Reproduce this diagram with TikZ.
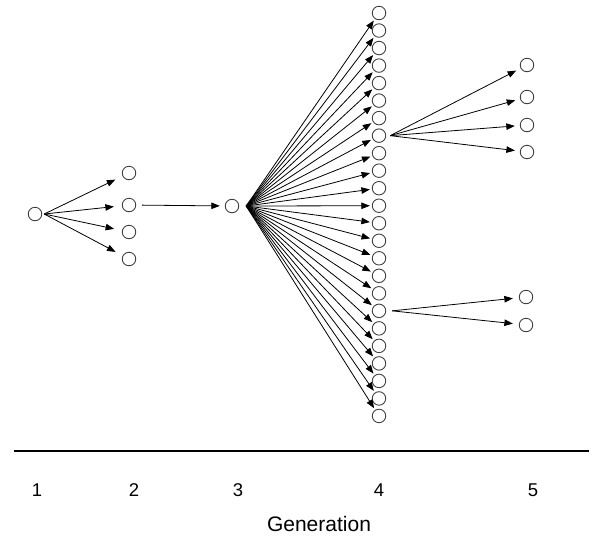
\documentclass[tikz,border=0pt]{standalone}
\usepackage{fontspec}
\setmainfont{Liberation Sans}
\usetikzlibrary{arrows.meta}
\begin{document}
\begin{tikzpicture}[x=1pt,y=-1pt,
  gen/.style={circle,draw=black!75,line width=0.9pt,minimum size=13.5pt,inner sep=0pt},
  arr/.style={-{Triangle[length=8.5pt,width=6.5pt]},line width=0.8pt},
  lbl/.style={font=\fontsize{18.5}{22}\selectfont,inner sep=0pt},
  axis/.style={line width=2.5pt}]
\useasboundingbox (0,0) rectangle (600,542);
% generation 1
\node[gen] (a) at (35,214) {};
% generation 2
\foreach \y [count=\i] in {173,205,232,259} \node[gen] (b\i) at (129,\y) {};
% generation 3
\node[gen] (c) at (232,206) {};
% generation 4
\foreach \i in {1,...,24} \node[gen] (d\i) at (379,{13+(\i-1)*17.52}) {};
% generation 5
\foreach \y [count=\i] in {65,97,125,152} \node[gen] (e\i) at (527,\y) {};
\foreach \y [count=\i] in {297,325} \node[gen] (f\i) at (526,\y) {};
% arrows
\coordinate (ax) at ([xshift=2pt]a.east);
\foreach \i in {1,...,4} \draw[arr,shorten >=8pt] (ax) -- (b\i);
\draw[arr,shorten <=6pt,shorten >=5pt] (b2) -- (c);
\coordinate (cx) at ([xshift=7pt]c.east);
\foreach \i in {1,...,24} \draw[arr,shorten >=2pt] (cx) -- (d\i);
\coordinate (dx) at ([xshift=4pt]d8.east);
\foreach \i in {1,...,4} \draw[arr,shorten >=5pt] (dx) -- (e\i);
\coordinate (dy) at ([xshift=6pt]d18.east);
\foreach \i in {1,2} \draw[arr,shorten >=6pt] (dy) -- (f\i);
% axis
\coordinate (l) at (14,451);
\coordinate (r) at (589,451);
\draw[axis] (l) -- (r);
\node[lbl] (g1) at (37,490) {1};
\node[lbl] (g2) at (134,490) {2};
\node[lbl] (g3) at (238,490) {3};
\node[lbl] (g4) at (379,490) {4};
\node[lbl] (g5) at (533,490) {5};
\node[lbl,font=\fontsize{21}{24}\selectfont] (gen) at (319,524) {Generation};
\end{tikzpicture}
\end{document}
